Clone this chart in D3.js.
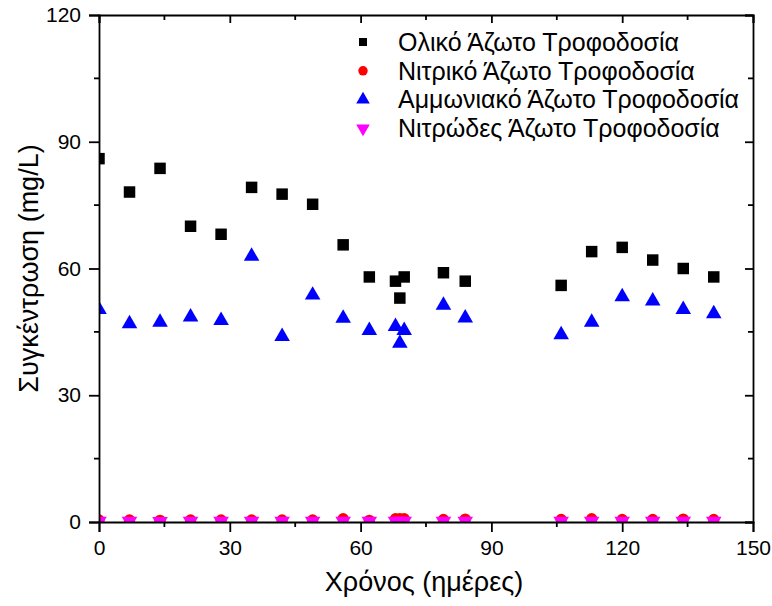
<!DOCTYPE html>
<html>
<head>
<meta charset="utf-8">
<script src="https://cdn.jsdelivr.net/npm/d3@7"></script>
<style>
  body { margin: 0; background: #fff; }
  svg { display: block; font-family: 'Liberation Sans', Arial, sans-serif; }
</style>
</head>
<body>
<div id="chart"></div>
<script>
// sampling days
const days = [0, 7, 14, 21, 28, 35, 42, 49, 56, 62, 68, 69, 70, 79, 84, 106, 113, 120, 127, 134, 141]

// concentrations (mg/L)
const totalN = [86, 78.1, 83.7, 70, 68.1, 79.2, 77.6, 75.2, 65.6, 58, 57, 53, 58, 59, 57, 56, 64, 65, 62, 60, 58]
const nitrateN = [0.5, 0.5, 0.4, 0.5, 0.5, 0.5, 0.5, 0.5, 0.8, 0.4, 0.8, 0.8, 0.8, 0.6, 0.7, 0.6, 0.8, 0.6, 0.6, 0.7, 0.6]
const ammoniumN = [50.3, 46.9, 47.3, 48.5, 47.7, 62.9, 43.9, 53.7, 48.2, 45.3, 46.3, 42.3, 45.3, 51.3, 48.3, 44.3, 47.3, 53.3, 52.3, 50.3, 49.3]
const nitriteN = [0.2, 0.2, 0.1, 0.2, 0.2, 0.2, 0.2, 0.2, 0.2, 0.2, 0.2, 0.2, 0.2, 0.2, 0.2, 0.2, 0.2, 0.2, 0.2, 0.2, 0.2]

const seriesNames = ['Ολικό Άζωτο Τροφοδοσία', 'Νιτρικό Άζωτο Τροφοδοσία', 'Αμμωνιακό Άζωτο Τροφοδοσία', 'Νιτρώδες Άζωτο Τροφοδοσία']
const xTicks = [0, 30, 60, 90, 120, 150]
const yTicks = [0, 30, 60, 90, 120]

const width = 772
const height = 606
const margin = { left: 99, right: 19, top: 15, bottom: 84 }
const innerW = width - margin.left - margin.right
const innerH = height - margin.top - margin.bottom

const svg = d3.select('#chart')
  .append('svg')
  .attr('width', width)
  .attr('height', height)

const x = d3.scaleLinear().domain([0, 150]).range([margin.left, margin.left + innerW])
const y = d3.scaleLinear().domain([0, 120]).range([margin.top + innerH, margin.top])

svg.append('clipPath')
  .attr('id', 'plotClip')
  .append('rect')
  .attr('x', margin.left)
  .attr('y', margin.top)
  .attr('width', innerW)
  .attr('height', innerH)

// marker shapes per series
const series = [
  { name: seriesNames[0], values: totalN, color: '#000000', symbol: d3.symbolSquare, size: 132 },
  { name: seriesNames[1], values: nitrateN, color: '#ff0000', symbol: d3.symbolCircle, size: 100 },
  { name: seriesNames[2], values: ammoniumN, color: '#0000ff', symbol: d3.symbolTriangle, size: 105 },
  { name: seriesNames[3], values: nitriteN, color: '#ff00ff', symbol: d3.symbolTriangle, size: 105, flip: true }
]

const plot = svg.append('g').attr('clip-path', 'url(#plotClip)')

series.forEach(s => {
  plot.append('g')
    .selectAll('path')
    .data(days.map((d, i) => ({ day: d, value: s.values[i] })))
    .enter()
    .append('path')
    .attr('d', d3.symbol().type(s.symbol).size(s.size))
    .attr('transform', d => `translate(${x(d.day)},${y(d.value)})${s.flip ? ' rotate(180)' : ''}`)
    .attr('fill', s.color)
})

// axes: outer ticks on bottom/left, mirrored inner ticks on top/right
const minorX = d3.range(15, 150, 30)
const minorY = d3.range(15, 120, 30)

const xAxis = svg.append('g')
  .attr('transform', `translate(0,${margin.top + innerH})`)
  .call(d3.axisBottom(x).tickValues(xTicks).tickSize(10).tickPadding(8).tickFormat(d3.format('d')))
xAxis.append('g').selectAll('line')
  .data(minorX).enter().append('line')
  .attr('x1', d => x(d)).attr('x2', d => x(d))
  .attr('y1', 0).attr('y2', 5)

const yAxis = svg.append('g')
  .attr('transform', `translate(${margin.left},0)`)
  .call(d3.axisLeft(y).tickValues(yTicks).tickSize(10).tickPadding(8).tickFormat(d3.format('d')))
yAxis.append('g').selectAll('line')
  .data(minorY).enter().append('line')
  .attr('y1', d => y(d)).attr('y2', d => y(d))
  .attr('x1', 0).attr('x2', -5)

const topAxis = svg.append('g')
  .attr('transform', `translate(0,${margin.top})`)
  .call(d3.axisTop(x).tickValues(xTicks).tickSize(-8).tickFormat(''))
topAxis.append('g').selectAll('line')
  .data(minorX).enter().append('line')
  .attr('x1', d => x(d)).attr('x2', d => x(d))
  .attr('y1', 0).attr('y2', 5)

const rightAxis = svg.append('g')
  .attr('transform', `translate(${margin.left + innerW},0)`)
  .call(d3.axisRight(y).tickValues(yTicks).tickSize(-8).tickFormat(''))
rightAxis.append('g').selectAll('line')
  .data(minorY).enter().append('line')
  .attr('y1', d => y(d)).attr('y2', d => y(d))
  .attr('x1', 0).attr('x2', -5)

svg.selectAll('.domain').attr('stroke', '#000').attr('stroke-width', 1.8)
svg.selectAll('.tick line').attr('stroke', '#000').attr('stroke-width', 1.8)
svg.selectAll('g > g > line').attr('stroke', '#000').attr('stroke-width', 1.8)
svg.selectAll('.tick text')
  .attr('font-size', 21)
  .attr('font-family', "'Liberation Sans', Arial, sans-serif")
  .attr('fill', '#000')

// axis titles
svg.append('text')
  .attr('x', x(75) - 2)
  .attr('y', 591)
  .attr('text-anchor', 'middle')
  .attr('font-size', 27)
  .text('Χρόνος (ημέρες)')

svg.append('text')
  .attr('transform', `translate(38,${y(60)}) rotate(-90)`)
  .attr('text-anchor', 'middle')
  .attr('font-size', 27)
  .text('Συγκέντρωση (mg/L)')

// legend
const legend = svg.append('g').attr('transform', 'translate(363,42)')
const legendSizes = [64, 70, 80, 80]
series.forEach((s, i) => {
  const row = legend.append('g').attr('transform', `translate(0,${i * 28.8})`)
  row.append('path')
    .attr('d', d3.symbol().type(s.symbol).size(legendSizes[i]))
    .attr('transform', s.flip ? 'rotate(180)' : null)
    .attr('fill', s.color)
  row.append('text')
    .attr('x', 35)
    .attr('dy', '0.35em')
    .attr('font-size', 25)
    .text(s.name)
})
</script>
</body>
</html>
